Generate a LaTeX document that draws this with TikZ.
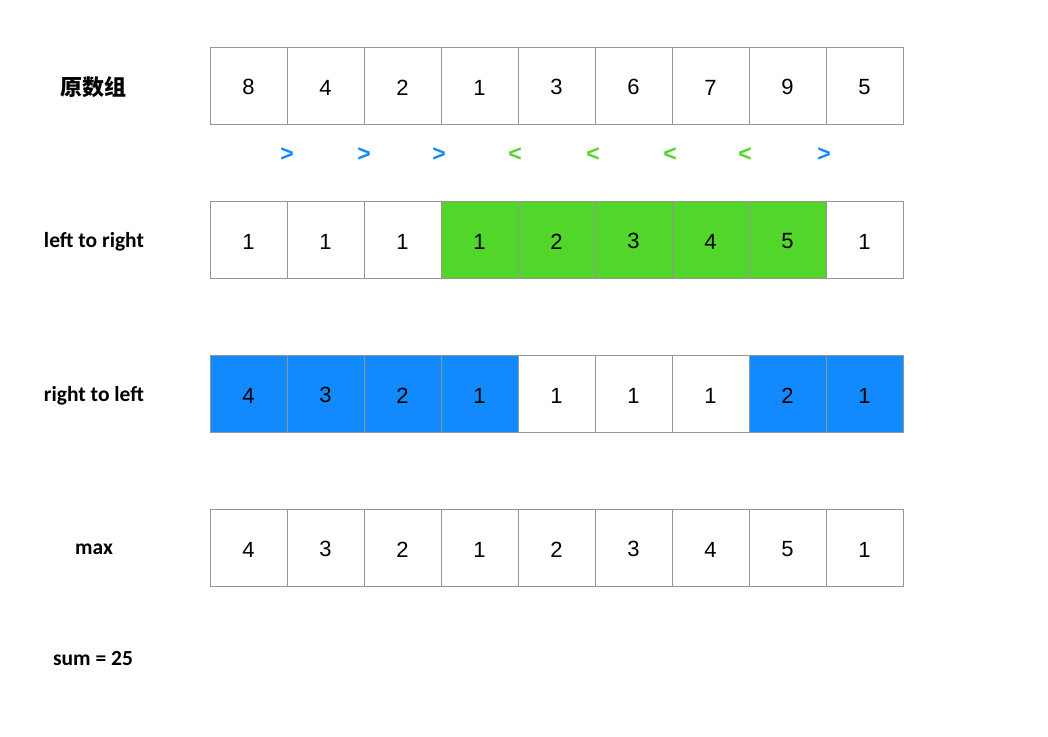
\documentclass[tikz,border=0pt]{standalone}
\usepackage{fontspec}
\setmainfont{Liberation Sans}
\newfontfamily\lblfont{Carlito}
\newfontfamily\cjk{Noto Sans CJK SC}
\usepackage{xcolor}
\usetikzlibrary{positioning}
\definecolor{gy}{RGB}{150,150,150}
\definecolor{gn}{RGB}{83,214,44}
\definecolor{bu}{RGB}{18,138,254}
\tikzset{
  cell/.style={draw=gy,line width=0.9pt,minimum width=77pt,minimum height=77pt,inner sep=0pt,outer sep=0pt,text height=19pt,font=\fontsize{22}{26}\selectfont},
  gcell/.style={cell,fill=gn},
  bcell/.style={cell,fill=bu},
  rowlbl/.style={font=\lblfont\bfseries\fontsize{21.5}{24}\selectfont},
  gt/.style={text=bu,font=\bfseries\fontsize{23}{26}\selectfont},
  lt/.style={text=gn,font=\bfseries\fontsize{23}{26}\selectfont}
}

\begin{document}
\begin{tikzpicture}[x=1pt,y=-1pt]
  \useasboundingbox[fill=white] (0,0) rectangle (1048,736);

  % original array
  \node[font=\cjk\bfseries\fontsize{22}{26}\selectfont] (t0) at (93,87) {原数组};
  \node[cell] (o1) at (248.5,85.5) {8};
  \node[cell,right=0pt of o1] (o2) {4};
  \node[cell,right=0pt of o2] (o3) {2};
  \node[cell,right=0pt of o3] (o4) {1};
  \node[cell,right=0pt of o4] (o5) {3};
  \node[cell,right=0pt of o5] (o6) {6};
  \node[cell,right=0pt of o6] (o7) {7};
  \node[cell,right=0pt of o7] (o8) {9};
  \node[cell,right=0pt of o8] (o9) {5};

  % comparisons
  \node[gt] (c1) at (287,155) {>};
  \node[gt] (c2) at (364,155) {>};
  \node[gt] (c3) at (439,155) {>};
  \node[lt] (c4) at (515,155) {<};
  \node[lt] (c5) at (593,155) {<};
  \node[lt] (c6) at (670,155) {<};
  \node[lt] (c7) at (745,155) {<};
  \node[gt] (c8) at (824,155) {>};

  % left to right
  \node[rowlbl] (t1) at (94,241.5) {left to right};
  \node[cell] (a1) at (248.5,239.5) {1};
  \node[cell,right=0pt of a1] (a2) {1};
  \node[cell,right=0pt of a2] (a3) {1};
  \node[gcell,right=0pt of a3] (a4) {1};
  \node[gcell,right=0pt of a4] (a5) {2};
  \node[gcell,right=0pt of a5] (a6) {3};
  \node[gcell,right=0pt of a6] (a7) {4};
  \node[gcell,right=0pt of a7] (a8) {5};
  \node[cell,right=0pt of a8] (a9) {1};

  % right to left
  \node[rowlbl] (t2) at (94,395.5) {right to left};
  \node[bcell] (b1) at (248.5,393.5) {4};
  \node[bcell,right=0pt of b1] (b2) {3};
  \node[bcell,right=0pt of b2] (b3) {2};
  \node[bcell,right=0pt of b3] (b4) {1};
  \node[cell,right=0pt of b4] (b5) {1};
  \node[cell,right=0pt of b5] (b6) {1};
  \node[cell,right=0pt of b6] (b7) {1};
  \node[bcell,right=0pt of b7] (b8) {2};
  \node[bcell,right=0pt of b8] (b9) {1};

  % max
  \node[rowlbl] (t3) at (94,549.5) {max};
  \node[cell] (m1) at (248.5,547.5) {4};
  \node[cell,right=0pt of m1] (m2) {3};
  \node[cell,right=0pt of m2] (m3) {2};
  \node[cell,right=0pt of m3] (m4) {1};
  \node[cell,right=0pt of m4] (m5) {2};
  \node[cell,right=0pt of m5] (m6) {3};
  \node[cell,right=0pt of m6] (m7) {4};
  \node[cell,right=0pt of m7] (m8) {5};
  \node[cell,right=0pt of m8] (m9) {1};

  \node[rowlbl] (s) at (93,658.5) {sum = 25};
\end{tikzpicture}
\end{document}
